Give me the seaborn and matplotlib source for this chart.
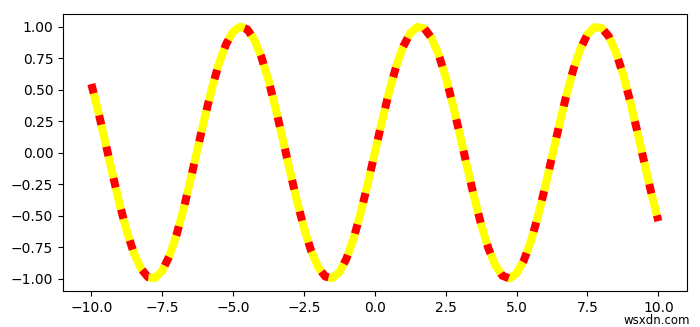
import matplotlib
matplotlib.use("Agg")
import matplotlib.pyplot as plt
import seaborn as sns
import pandas as pd

x_values = [-10.0, -9.75, -9.5, -9.25, -9.0, -8.75, -8.5, -8.25, -8.0, -7.75,
            -7.5, -7.25, -7.0, -6.75, -6.5, -6.25, -6.0, -5.75, -5.5, -5.25,
            -5.0, -4.75, -4.5, -4.25, -4.0, -3.75, -3.5, -3.25, -3.0, -2.75,
            -2.5, -2.25, -2.0, -1.75, -1.5, -1.25, -1.0, -0.75, -0.5, -0.25,
            0.0, 0.25, 0.5, 0.75, 1.0, 1.25, 1.5, 1.75, 2.0, 2.25,
            2.5, 2.75, 3.0, 3.25, 3.5, 3.75, 4.0, 4.25, 4.5, 4.75,
            5.0, 5.25, 5.5, 5.75, 6.0, 6.25, 6.5, 6.75, 7.0, 7.25,
            7.5, 7.75, 8.0, 8.25, 8.5, 8.75, 9.0, 9.25, 9.5, 9.75, 10.0]
y_values = [0.544, 0.320, 0.075, -0.174, -0.412, -0.625, -0.798, -0.922, -0.989, -0.995,
            -0.938, -0.823, -0.657, -0.450, -0.215, 0.033, 0.279, 0.508, 0.706, 0.859,
            0.959, 0.999, 0.978, 0.895, 0.757, 0.572, 0.351, 0.108, -0.141, -0.382,
            -0.598, -0.778, -0.909, -0.984, -0.997, -0.949, -0.841, -0.682, -0.479, -0.247,
            0.0, 0.247, 0.479, 0.682, 0.841, 0.949, 0.997, 0.984, 0.909, 0.778,
            0.598, 0.382, 0.141, -0.108, -0.351, -0.572, -0.757, -0.895, -0.978, -0.999,
            -0.959, -0.859, -0.706, -0.508, -0.279, -0.033, 0.215, 0.450, 0.657, 0.823,
            0.938, 0.995, 0.989, 0.922, 0.798, 0.625, 0.412, 0.174, -0.075, -0.320, -0.544]

df = pd.DataFrame({"x": x_values, "y": y_values})

fig, ax = plt.subplots(figsize=(7, 3.27), dpi=100)
fig.subplots_adjust(left=0.09, right=0.981, top=0.957, bottom=0.11)

sns.lineplot(data=df, x="x", y="y", ax=ax, color="red", linestyle=(0, (1.2, 2.8)),
             linewidth=5.8, gapcolor="yellow", sort=False, estimator=None)
ax.set_xlabel("")
ax.set_ylabel("")
ax.set_xticks([-10.0, -7.5, -5.0, -2.5, 0.0, 2.5, 5.0, 7.5, 10.0])
ax.set_yticks([-1.0, -0.75, -0.5, -0.25, 0.0, 0.25, 0.5, 0.75, 1.0])

fig.text(0.985, 0.0, "wsxdn.com", ha="right", va="bottom", fontsize=8.5, color="black")

fig.savefig("out.png", dpi=100)
